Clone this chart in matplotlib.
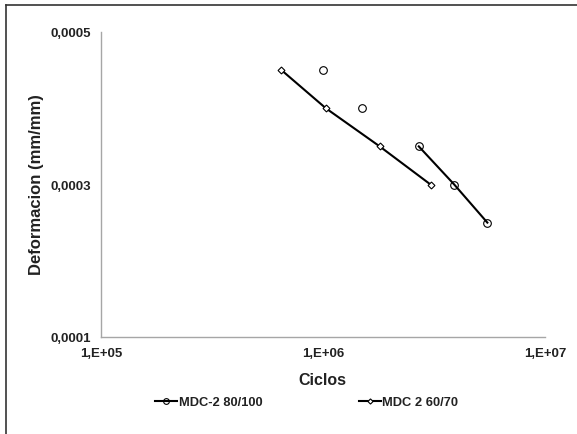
import math
import matplotlib
matplotlib.use('Agg')
import matplotlib.pyplot as plt
from matplotlib.lines import Line2D
from matplotlib.ticker import FixedLocator, FuncFormatter

# MDC-2 80/100 (circles)
ciclos_80 = [1.0e6, 1.5e6, 2.7e6, 3.9e6, 5.5e6]
def_80 = [0.00045, 0.00040, 0.00035, 0.00030, 0.00025]
# MDC 2 60/70 (diamonds)
ciclos_60 = [6.5e5, 1.03e6, 1.8e6, 3.05e6]
def_60 = [0.00045, 0.00040, 0.00035, 0.00030]

y_ticks = [0.0001, 0.0003, 0.0005]
x_ticks = [1e5, 1e6, 1e7]

plt.rcParams['font.family'] = ['Liberation Sans', 'DejaVu Sans']
plt.rcParams['font.weight'] = 'bold'

fig = plt.figure(figsize=(5.77, 4.35), dpi=100)
ax = fig.add_axes([101 / 577, 1 - 338 / 435, 444 / 577, 305 / 435])

# first two circles have no connecting line
ax.plot(ciclos_80[:2], def_80[:2], linestyle='none', marker='o', markersize=5.5,
        markerfacecolor='white', markeredgecolor='black', markeredgewidth=0.8)
ax.plot(ciclos_80[2:], def_80[2:], color='black', linewidth=1.5, marker='o', markersize=5.5,
        markerfacecolor='none', markeredgecolor='black', markeredgewidth=0.8,
        label='MDC-2 80/100')
ax.plot(ciclos_60, def_60, color='black', linewidth=1.5, marker='D', markersize=3.5,
        markerfacecolor='white', markeredgecolor='black', markeredgewidth=0.8,
        label='MDC 2 60/70')

ax.set_xscale('log')
ax.set_xlim(1e5, 1e7)
ax.set_ylim(0.0001, 0.0005)
ax.xaxis.set_major_locator(FixedLocator(x_ticks))
ax.xaxis.set_minor_locator(FixedLocator([]))
ax.yaxis.set_major_locator(FixedLocator(y_ticks))
ax.xaxis.set_major_formatter(FuncFormatter(lambda v, p: '1,E+%02d' % round(math.log10(v))))
ax.yaxis.set_major_formatter(FuncFormatter(lambda v, p: ('%.4f' % v).replace('.', ',')))
ax.tick_params(axis='both', length=0, labelsize=9.5, colors='#222222')
ax.tick_params(axis='y', pad=7)
ax.tick_params(axis='x', pad=7)

for s in ['top', 'right']:
    ax.spines[s].set_visible(False)
for s in ['left', 'bottom']:
    ax.spines[s].set_color('#a6a6a6')
    ax.spines[s].set_linewidth(1.0)

fig.text(322 / 577, 1 - 381 / 435, 'Ciclos', ha='center', va='center',
         fontsize=11.5, fontweight='bold', color='#222222')
fig.text(37 / 577, 1 - 185 / 435, 'Deformacion (mm/mm)', ha='center', va='center',
         rotation=90, fontsize=12, fontweight='bold', color='#222222')

fig.legend(loc='center', bbox_to_anchor=(307 / 577, 1 - 403 / 435), ncol=2, frameon=False,
           fontsize=9.3, handlelength=1.7, handletextpad=0.15, columnspacing=7.4,
           markerscale=0.75, labelcolor='#222222')

# chart area border (left and top visible)
fig.add_artist(Line2D([5.5 / 577, 5.5 / 577], [0, 1 - 6 / 435], transform=fig.transFigure,
                      color='#333333', linewidth=1.2))
fig.add_artist(Line2D([5.5 / 577, 1], [1 - 6 / 435, 1 - 6 / 435], transform=fig.transFigure,
                      color='#333333', linewidth=1.2))

fig.savefig('out.png', dpi=100)
